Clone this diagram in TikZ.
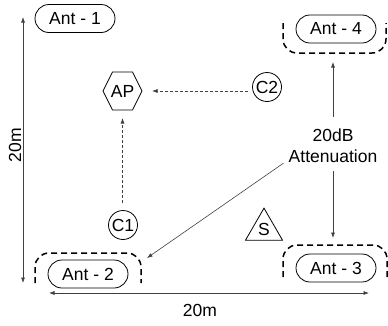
\documentclass[tikz,border=0pt]{standalone}
\usepackage{fontspec}
\setmainfont{Liberation Sans}
\usetikzlibrary{arrows.meta,shapes.geometric}
\begin{document}
\begin{tikzpicture}[x=1pt,y=-1pt,
  every node/.style={font=\fontsize{17.5}{21}\selectfont, inner sep=0pt},
  ant/.style={draw, line width=0.8pt, rounded corners=14pt, minimum width=80pt, minimum height=28pt},
  cbox/.style={draw, circle, line width=0.8pt, minimum size=29pt},
  grp/.style={line width=1.5pt, dash pattern=on 6pt off 4pt, rounded corners=14pt},
  arr/.style={line width=0.6pt, draw=black!75, -{Latex[length=5.5pt,width=4pt]}},
  darr/.style={arr, dash pattern=on 3pt off 2pt},
  dim/.style={line width=0.6pt, draw=black!75, {Latex[length=5.5pt,width=4pt]}-{Latex[length=5.5pt,width=4pt]}}
]
\useasboundingbox (0,0) rectangle (388,325);
% antennas
\node[ant] (ant1) at (75,18.5) {Ant - 1};
\node[ant] (ant4) at (336,29) {Ant - 4};
\node[ant] (ant3) at (336,268) {Ant - 3};
\node[ant] (ant2) at (88,274) {Ant - 2};
% dashed groups
\draw[grp] (283,23) -- (283,53) -- (386,53) -- (386,23);
\draw[grp] (283,277) -- (283,245) -- (387,245) -- (387,277);
\draw[grp] (35,283) -- (35,253) -- (141,253) -- (141,283);
% AP hexagon
\node (ap) at (122.5,91) {AP};
\draw[line width=0.8pt, shift={(ap.center)}] (-19.5,0) -- (-10,-19) -- (10,-19) -- (19.5,0) -- (10,19) -- (-10,19) -- cycle;
% clients
\node[cbox] (c2) at (267,87) {C2};
\node[cbox] (c1) at (123,225) {C1};
\coordinate (apR) at (152,91);
\coordinate (apB) at (122.5,118);
\coordinate (c2L) at (248,91);
\coordinate (c1T) at (122.5,203);
\draw[darr] (c2L) -- (apR);
\draw[darr] (c1T) -- (apB);
% attenuation
\node[align=center] (attn) at (333,146) {20dB\\Attenuation};
\coordinate (t4) at (333,62);
\coordinate (t3) at (333,238);
\coordinate (t2) at (147,258);
\draw[arr] ([yshift=12pt]attn.north) -- (t4);
\draw[arr] ([yshift=-8pt]attn.south) -- (t3);
\draw[arr] ([xshift=-5pt]attn.south west) -- (t2);
% S
\node[draw, regular polygon, regular polygon sides=3, minimum size=42.7pt, line width=0.8pt] (s) at (264,229.5) {S};
% dimensions
\coordinate (vt) at (23,17);
\coordinate (vb) at (23,283);
\draw[dim] (vt) -- (vb);
\node[rotate=90] (vl) at (15,145) {20m};
\coordinate (hl) at (49,293);
\coordinate (hr) at (369,293);
\draw[dim] (hl) -- (hr);
\node (hlab) at (200,310) {20m};
\end{tikzpicture}
\end{document}
